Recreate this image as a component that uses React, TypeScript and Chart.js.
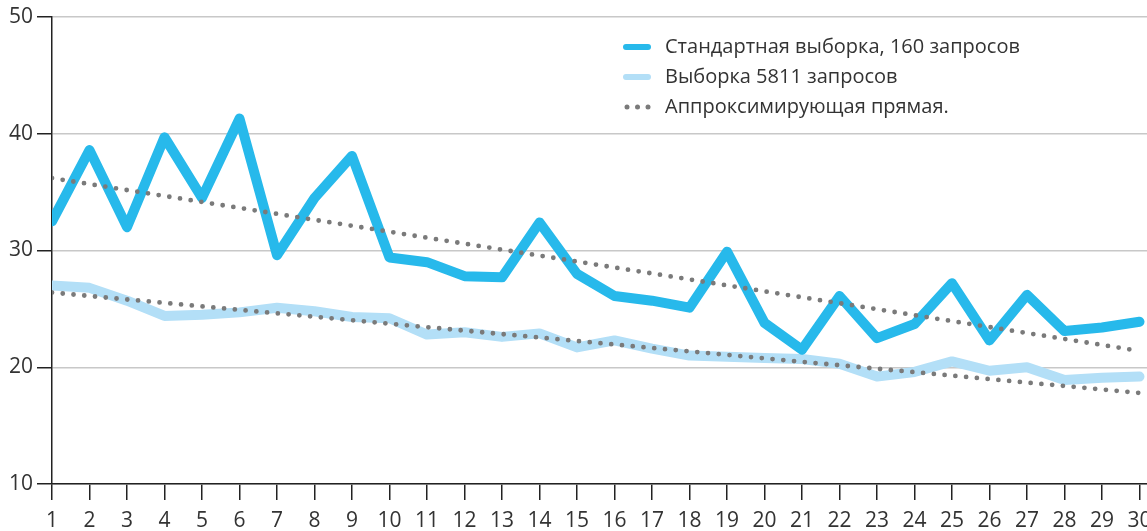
import React, { useEffect, useRef } from "react";
import { Chart, registerables } from "chart.js";

Chart.register(...registerables);

const days = [1, 2, 3, 4, 5, 6, 7, 8, 9, 10, 11, 12, 13, 14, 15, 16, 17, 18, 19, 20, 21, 22, 23, 24, 25, 26, 27, 28, 29, 30];
const standardSample = [32.5, 38.6, 32.0, 39.7, 34.5, 41.3, 29.6, 34.5, 38.1, 29.4, 29.0, 27.8, 27.7, 32.4, 28.0, 26.1, 25.7, 25.1, 29.9, 23.8, 21.5, 26.1, 22.5, 23.7, 27.2, 22.3, 26.2, 23.1, 23.4, 23.9];
const largeSample = [27.0, 26.8, 25.7, 24.4, 24.5, 24.7, 25.1, 24.8, 24.3, 24.2, 22.8, 23.0, 22.6, 22.9, 21.7, 22.3, 21.6, 21.0, 20.9, 20.8, 20.7, 20.3, 19.2, 19.6, 20.5, 19.7, 20.0, 18.9, 19.1, 19.2];
const trendDays = [1, 30];
const trendStandard = [36.2, 21.4];
const trendLarge = [26.4, 17.8];
const yTicks = [10, 20, 30, 40, 50];
const seriesLabels = ["Стандартная выборка, 160 запросов", "Выборка 5811 запросов", "Аппроксимирующая прямая."];

const FONT = "'Open Sans', 'DejaVu Sans', sans-serif";
const DARK = "#27B9EB";
const LIGHT = "#B3DFF7";
const DOT = "#7A7A7A";
const TEXT = "#333333";

export default function App() {
  const ref = useRef<HTMLCanvasElement>(null);

  useEffect(() => {
    document.body.style.margin = "0";
    const canvas = ref.current!;

    const legendPlugin = {
      id: "customLegend",
      afterDraw(chart: any) {
        const c = chart.ctx as CanvasRenderingContext2D;
        c.save();
        const x0 = 626, x1 = 648, tx = 665;
        const baselines = [53, 83, 113];
        c.font = `20px ${FONT}`;
        c.textBaseline = "alphabetic";
        c.textAlign = "left";
        seriesLabels.forEach((lab, i) => {
          const my = baselines[i] - 6;
          c.lineCap = "round";
          if (i < 2) {
            c.strokeStyle = i === 0 ? DARK : LIGHT;
            c.lineWidth = 6;
            c.beginPath();
            c.moveTo(x0, my);
            c.lineTo(x1, my);
            c.stroke();
          } else {
            c.fillStyle = DOT;
            [627, 637.5, 648].forEach((dx) => {
              c.beginPath();
              c.arc(dx, my, 2.5, 0, Math.PI * 2);
              c.fill();
            });
          }
          c.fillStyle = TEXT;
          c.fillText(lab, tx, baselines[i]);
        });
        c.restore();
      },
    };

    const toXY = (xs: number[], ys: number[]) => xs.map((x, i) => ({ x, y: ys[i] }));
    const clip = { left: 0, top: 10, right: 10, bottom: 10 } as any;

    const chart = new Chart(canvas, {
      type: "line",
      data: {
        datasets: [
          {
            label: seriesLabels[2],
            data: toXY(trendDays, trendStandard),
            borderColor: DOT,
            borderWidth: 4.8,
            borderDash: [0, 10.8],
            borderCapStyle: "round",
            pointRadius: 0,
            clip,
            order: 0,
          },
          {
            label: seriesLabels[2] + " ",
            data: toXY(trendDays, trendLarge),
            borderColor: DOT,
            borderWidth: 4.8,
            borderDash: [0, 10.8],
            borderCapStyle: "round",
            pointRadius: 0,
            clip,
            order: 1,
          },
          {
            label: seriesLabels[0],
            data: toXY(days, standardSample),
            borderColor: DARK,
            borderWidth: 10,
            borderJoinStyle: "round",
            borderCapStyle: "round",
            pointRadius: 0,
            tension: 0,
            clip,
            order: 2,
          },
          {
            label: seriesLabels[1],
            data: toXY(days, largeSample),
            borderColor: LIGHT,
            borderWidth: 10,
            borderJoinStyle: "round",
            borderCapStyle: "round",
            pointRadius: 0,
            tension: 0,
            clip,
            order: 3,
          },
        ],
      },
      options: {
        animation: false,
        responsive: false,
        layout: { padding: { top: 17, left: 0, right: 0, bottom: 0 } },
        plugins: { legend: { display: false }, tooltip: { enabled: false } },
        scales: {
          x: {
            type: "linear",
            min: 1,
            max: 30.2,
            afterFit: (s: any) => {
              s.height = 47;
              s.paddingLeft = 0;
              s.paddingRight = 0;
            },
            ticks: {
              stepSize: 1,
              includeBounds: false,
              autoSkip: false,
              maxRotation: 0,
              padding: 8,
              color: TEXT,
              font: { family: FONT, size: 21 },
              callback: (v: any) => (days.includes(v) ? String(v) : ""),
            },
            grid: {
              drawOnChartArea: false,
              drawTicks: true,
              tickLength: 16,
              tickColor: "#222",
              lineWidth: 1.5,
            },
            border: { color: "#222", width: 1.5 },
          },
          y: {
            min: 10,
            max: 50,
            afterFit: (s: any) => {
              s.width = 52;
              s.paddingTop = 0;
              s.paddingBottom = 0;
            },
            afterBuildTicks: (s: any) => {
              s.ticks = yTicks.map((v) => ({ value: v }));
            },
            ticks: {
              padding: 4,
              color: TEXT,
              font: { family: FONT, size: 21 },
            },
            grid: {
              color: "#C8C8C8",
              lineWidth: 1.5,
              tickLength: 15,
              tickColor: "#222",
            },
            border: { color: "#222", width: 1.5 },
          },
        },
      },
      plugins: [legendPlugin],
    });
    return () => chart.destroy();
  }, []);

  return (
    <div style={{ position: "absolute", left: 0, top: 0, width: 1147, height: 531, overflow: "hidden", background: "#fff" }}>
      <canvas ref={ref} width={1147} height={531} style={{ display: "block" }} />
    </div>
  );
}
